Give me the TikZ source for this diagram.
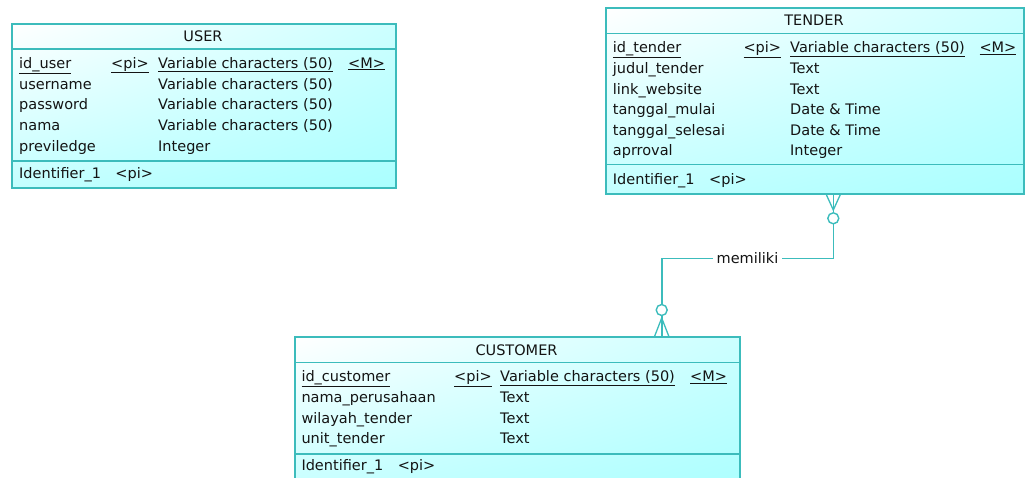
\documentclass[tikz,border=0pt]{standalone}
\usepackage{fontspec}
\setmainfont{DejaVu Sans}
\usetikzlibrary{calc,shadings}

\definecolor{erline}{RGB}{60,188,188}
\definecolor{erfill}{RGB}{170,255,255}
\definecolor{ertext}{RGB}{20,20,20}

\tikzset{
  erbox/.style={draw=erline, line width=1.6pt, anchor=north west, inner sep=0pt,
    upper left=white, upper right=erfill!60, lower left=erfill!70, lower right=erfill},
  ertxt/.style={anchor=base west, inner sep=0pt, text=ertext, font=\fontsize{14.5}{17}\selectfont},
  ertitle/.style={inner sep=0pt, text=ertext, font=\fontsize{14.5}{17}\selectfont},
  erlink/.style={draw=erline, line width=1.6pt},
  ercirc/.style={circle, draw=erline, line width=1.4pt, fill=white, minimum size=11pt, inner sep=0pt}
}

\begin{document}
\begin{tikzpicture}[x=1pt, y=-1pt]
    \useasboundingbox (0,0) rectangle (1025,477);

    % USER box
    \node[erbox, minimum width=384pt, minimum height=164pt] (user) at (11,23) {};
    \draw[erlink] (11,49) -- (395,49);
    \draw[erlink] (11,161) -- (395,161);
    \node[ertitle] (user-title) at (203,36) {USER};
    \node[ertxt] (user-pk) at (19,68) {\underline{id\_user}};
    \node[ertxt] (user-pi) at (111,68) {\underline{<pi>}};
    \node[ertxt] (user-pkt) at (158,68) {\underline{Variable characters (50)}};
    \node[ertxt] (user-m) at (348,68) {\underline{<M>}};
    \foreach \y/\nm/\ty [count=\i] in {89/username/Variable characters (50),
        109/password/Variable characters (50), 130/nama/Variable characters (50),
        151/previledge/Integer} {
      \node[ertxt] (user-n\i) at (19,\y) {\nm};
      \node[ertxt] (user-t\i) at (158,\y) {\ty};
    }
    \node[ertxt] (user-id) at (19,178) {Identifier\_1\quad <pi>};

    % TENDER box
    \node[erbox, minimum width=418pt, minimum height=186pt] (tender) at (605,7) {};
    \draw[erlink] (605,33.3) -- (1023,33.3);
    \draw[erlink] (605,164.3) -- (1023,164.3);
    \node[ertitle] (tender-title) at (814,20) {TENDER};
    \node[ertxt] (tender-pk) at (612.7,52.7) {\underline{id\_tender}};
    \node[ertxt] (tender-pi) at (743.3,52.7) {\underline{<pi>}};
    \node[ertxt] (tender-pkt) at (790,52.7) {\underline{Variable characters (50)}};
    \node[ertxt] (tender-m) at (979.3,52.7) {\underline{<M>}};
    \foreach \y/\nm/\ty [count=\i] in {73.3/judul\_tender/Text,
        94/link\_website/Text, 114.6/tanggal\_mulai/Date \& Time,
        135.2/tanggal\_selesai/Date \& Time, 155.8/aprroval/Integer} {
      \node[ertxt] (tender-n\i) at (612.7,\y) {\nm};
      \node[ertxt] (tender-t\i) at (790,\y) {\ty};
    }
    \node[ertxt] (tender-id) at (612.7,184) {Identifier\_1\quad <pi>};

    % CUSTOMER box
    \node[erbox, minimum width=445pt, minimum height=160pt] (customer) at (294,336) {};
    \draw[erlink] (294,362.3) -- (739,362.3);
    \draw[erlink] (294,454) -- (739,454);
    \node[ertitle] (customer-title) at (516.5,350) {CUSTOMER};
    \node[ertxt] (customer-pk) at (301.3,381.7) {\underline{id\_customer}};
    \node[ertxt] (customer-pi) at (454,381.7) {\underline{<pi>}};
    \node[ertxt] (customer-pkt) at (500,381.7) {\underline{Variable characters (50)}};
    \node[ertxt] (customer-m) at (690,381.7) {\underline{<M>}};
    \foreach \y/\nm/\ty [count=\i] in {402.3/nama\_perusahaan/Text,
        423/wilayah\_tender/Text, 443.6/unit\_tender/Text} {
      \node[ertxt] (customer-n\i) at (301.3,\y) {\nm};
      \node[ertxt] (customer-t\i) at (500,\y) {\ty};
    }
    \node[ertxt] (customer-id) at (301.3,470) {Identifier\_1\quad <pi>};

    % Relationship memiliki (0..n -- 0..n)
    \coordinate (bendR) at (833.3,258.3);
    \coordinate (bendL) at (661.7,258.3);
    \coordinate (tipT) at (833.3,210);
    \coordinate (tipC) at (661.7,318);
    \draw[erlink] (tender.south -| bendR) -- (bendR)
        -- node[fill=white, inner xsep=4pt, inner ysep=1pt, text=ertext,
                font=\fontsize{14.5}{17}\selectfont] (rel-label) {memiliki} (bendL)
        -- (customer.north -| bendL);
    % crow's feet
    \draw[erlink, line width=1.3pt] ($(tender.south -| bendR)+(-7,0)$) -- (tipT)
        -- ($(tender.south -| bendR)+(7,0)$);
    \draw[erlink, line width=1.3pt] ($(customer.north -| bendL)+(-7,0)$) -- (tipC)
        -- ($(customer.north -| bendL)+(7,0)$);
    \node[ercirc] (circT) at (833.3,218.3) {};
    \node[ercirc] (circC) at (661.7,310) {};
\end{tikzpicture}
\end{document}
